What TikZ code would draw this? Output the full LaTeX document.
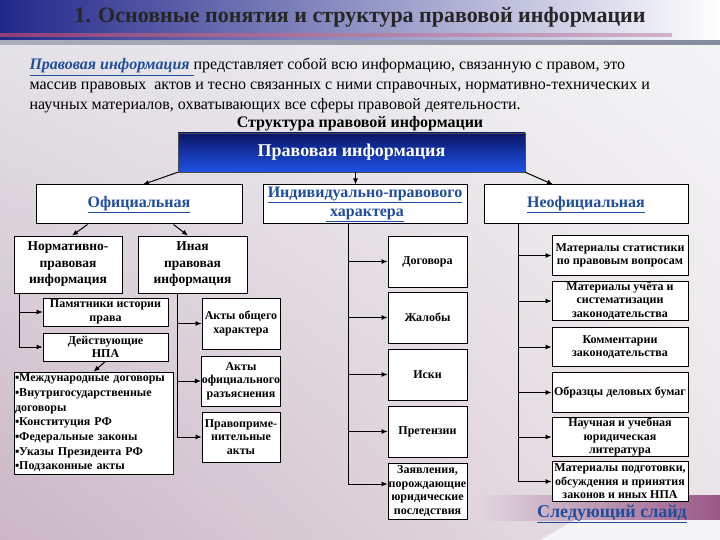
\documentclass[tikz,border=0pt]{standalone}
\usepackage{fontspec}
\setmainfont{Liberation Serif}
\usetikzlibrary{arrows.meta,shadings}
\definecolor{navy}{HTML}{0A1666}
\definecolor{brightblue}{HTML}{1E52E6}
\definecolor{linkblue}{HTML}{1F4E9E}
\definecolor{titleblue}{HTML}{22288A}
\definecolor{titlemid}{HTML}{6A6EB0}
\definecolor{stripe}{HTML}{8C3F78}
\definecolor{stripegray}{HTML}{858C9E}
\definecolor{bgA}{HTML}{E6E6EA}
\definecolor{bgB}{HTML}{F5F5F7}
\definecolor{bgC}{HTML}{CBB6C5}
\definecolor{bgD}{HTML}{EAE4E8}
\definecolor{mauve}{HTML}{985887}
\begin{document}
\begin{tikzpicture}[x=1pt,y=-1pt,
  box/.style={draw=black, fill=white, line width=0.8pt, align=center, inner sep=0.5pt,
    font=\bfseries\fontsize{12}{13.5}\selectfont},
  bigbox/.style={box, font=\bfseries\fontsize{13.5}{16.5}\selectfont},
  headbox/.style={box, line width=1pt, minimum height=39, text=linkblue,
    font=\bfseries\fontsize{16}{19}\selectfont},
  topbox/.style={draw=black!70, top color=navy, bottom color=brightblue, text=white,
    minimum width=347, minimum height=39, font=\bfseries\fontsize{18}{20}\selectfont},
  arr/.style={-{Latex[length=6pt,width=5pt]}, line width=1pt}]
% background and slide decoration
\shade[upper left=bgA, upper right=bgB, lower left=bgC, lower right=bgD] (0,0) rectangle (720,540);
\shade[left color=titleblue, middle color=titlemid, right color=white] (0,0) rectangle (720,41);
\shade[left color=stripe, right color=stripe!40] (0,34) rectangle (672,37);
\shade[left color=stripegray!70, right color=stripegray] (0,41) rectangle (720,45);
\shade[left color=bgD!90!mauve, right color=mauve] (480,495) rectangle (720,520);
\fill[bgB] (540,540) -- (575,520) -- (720,520) -- (720,540) -- cycle;
\node[font=\bfseries\fontsize{22}{24}\selectfont, text=black!85] (title) at (360,17)
  {1. Основные понятия и структура правовой информации};
% text
\node[anchor=north west, align=left, font=\fontsize{16}{20}\selectfont] (para) at (26,55)
  {\textcolor{linkblue}{\textbf{\textit{\underline{Правовая информация }}}}представляет собой всю информацию, связанную с правом, это\\
   массив правовых\ \ актов и тесно связанных с ними справочных, нормативно-технических и\\
   научных материалов, охватывающих все сферы правовой деятельности.};
\node[font=\bfseries\fontsize{16}{18}\selectfont] (struct) at (360,124) {Структура правовой информации};
% top levels
\node[topbox] (top) at (351.5,152.5) {Правовая информация};
\node[headbox, minimum width=206] (off) at (139,204.5) {\underline{Официальная}};
\node[headbox, minimum width=204] (ind) at (365,204.5) {\underline{Индивидуально-правового}\\\underline{\ характера}};
\node[headbox, minimum width=204] (neoff) at (586,204.5) {\underline{Неофициальная}};
\draw[arr] (top.south west) -- ([xshift=4]off.north);
\draw[arr] ([xshift=4]top.south) -- ([xshift=4]top.south |- ind.north);
\draw[arr] (top.south east) -- ([xshift=-33]neoff.north);
% official
\node[bigbox, minimum width=108, minimum height=57] (norm) at (68,264.5) {Нормативно-\\правовая\\информация};
\node[bigbox, minimum width=109, minimum height=57] (inaya) at (192.5,264.5) {Иная\\правовая\\информация};
\draw[arr] ([xshift=52]off.south west) -- ([xshift=4]norm.north);
\draw[arr] ([xshift=-69]off.south east) -- ([xshift=-4.5]inaya.north);
\node[box, minimum width=125, minimum height=28] (pam) at (105.5,312) {Памятники истории\\права};
\node[box, minimum width=125, minimum height=28] (npa) at (105.5,347) {Действующие\\НПА};
\node[box, align=left, minimum width=159, minimum height=102, text width=157,
  font=\bfseries\fontsize{12}{14.7}\selectfont] (list) at (93.5,423)
  {▪Международные договоры\\▪Внутригосударственные\\договоры\\▪Конституция РФ\\▪Федеральные законы\\▪Указы Президента РФ\\▪Подзаконные акты};
\draw[arr] ([xshift=6]norm.south west) |- (pam.west);
\draw[arr] ([xshift=6]norm.south west) |- (npa.west);
\draw[arr] (npa.south) -- (list.north);
\node[box, minimum width=78, minimum height=51] (obsh) at (241,323.5) {Акты общего\\характера};
\node[box, minimum width=78, minimum height=50] (ofic) at (241,381) {Акты\\официального\\разъяснения};
\node[box, minimum width=78, minimum height=50] (prim) at (241,437) {Правоприме-\\нительные\\акты};
\foreach \n in {obsh,ofic,prim}
  \draw[arr] ([xshift=40]inaya.south west) |- (\n.west);
% individual
\foreach \n/\y/\h/\t in {dog/261.5/51/{Договора}, zhal/317.5/51/{Жалобы}, iski/374.5/51/{Иски},
    pret/431.5/51/{Претензии}, zay/491/56/{Заявления,\\порождающие\\юридические\\последствия}} {
  \node[box, minimum width=79, minimum height=\h] (\n) at (427.5,\y) {\t};
}
\foreach \n in {dog,zhal,iski,pret}
  \draw[arr] ([xshift=86]ind.south west) |- (\n.west);
\draw[arr] ([xshift=86]ind.south west) |- ([yshift=7]zay.west);
% unofficial
\foreach \n/\y/\t in {r1/255.5/{Материалы статистики\\по правовым вопросам},
    r2/301/{Материалы учёта и\\систематизации\\законодательства},
    r3/347/{Комментарии\\законодательства},
    r4/392.5/{Образцы деловых бумаг},
    r5/437/{Научная и учебная\\юридическая\\литература},
    r6/481.5/{Материалы подготовки,\\обсуждения и принятия\\законов и иных НПА}} {
  \node[box, minimum width=136, minimum height=39.5] (\n) at (620,\y) {\t};
  \draw[arr] ([xshift=35]neoff.south west) |- (\n.west);
}
\node[font=\bfseries\fontsize{18}{20}\selectfont, text=linkblue] (next) at (612,514) {\underline{Следующий слайд}};
\end{tikzpicture}
\end{document}
